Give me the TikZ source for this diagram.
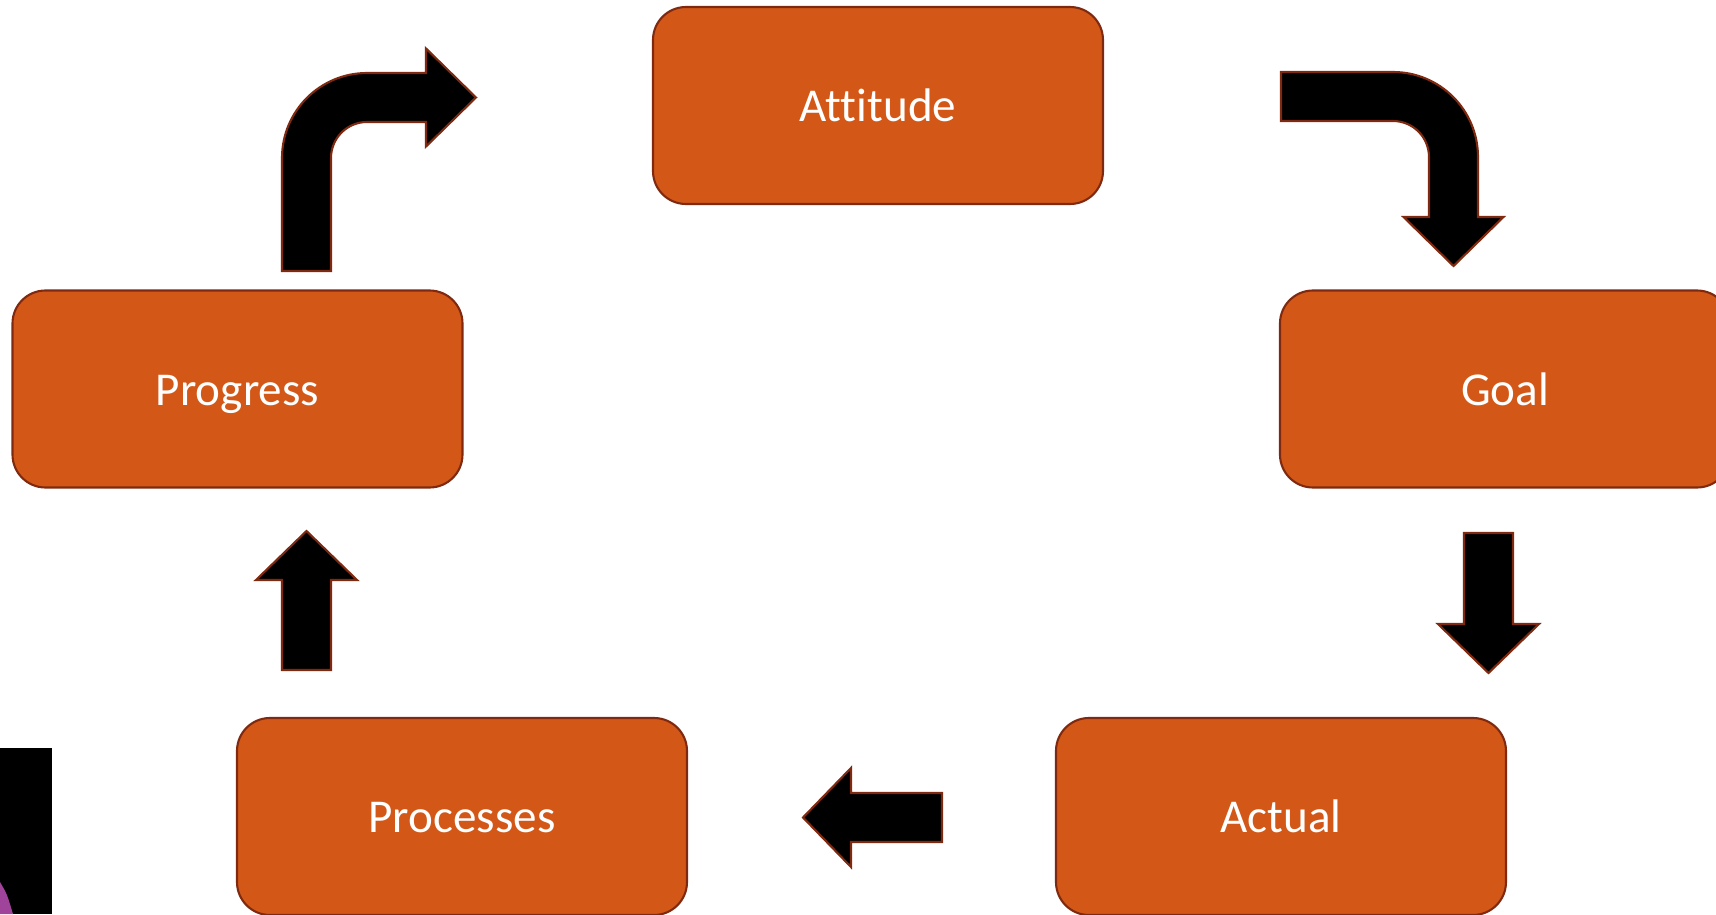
\documentclass[tikz,border=0pt]{standalone}
\usepackage{fontspec}
\setmainfont{Carlito}[Ligatures={NoCommon}]
\definecolor{boxfill}{HTML}{D35818}
\definecolor{boxline}{HTML}{7F2A10}
\definecolor{blob}{HTML}{A0449B}
\tikzset{
  stage/.style={draw=boxline, line width=0.6pt, fill=boxfill, rounded corners=0.33cm,
    minimum width=4.5cm, minimum height=1.97cm, inner sep=0pt,
    text height=10.5pt, text depth=1.2pt,
    text=white, font=\fontsize{13.4}{16}\selectfont},
  blockarrow/.style={draw=boxline, line width=0.6pt, fill=black}
}
\begin{document}
\begin{tikzpicture}
    \useasboundingbox (0,0) rectangle (17.16,9.14);
    \fill[black] (0,0) rectangle (0.52,1.66);
    \fill[blob] (0,0.32) .. controls (0.07,0.2) .. (0.13,0) -- (0,0) -- cycle;
    \node[stage] (attitude) at (8.78,8.085) {Attitude};
    \node[stage] (progress) at (2.375,5.25) {Progress};
    \node[stage] (goal) at (15.05,5.25) {Goal};
    \node[stage] (processes) at (4.62,0.975) {Processes};
    \node[stage] (actual) at (12.81,0.975) {Actual};
    \draw[blockarrow] (12.81,8.42) -- (13.93,8.42) arc[start angle=90, end angle=0, radius=0.85]
        -- (14.78,6.97) -- (15.035,6.97) -- (14.535,6.48) -- (14.035,6.97) -- (14.29,6.97)
        -- (14.29,7.57) arc[start angle=0, end angle=90, radius=0.36] -- (12.81,7.93) -- cycle;
    \draw[blockarrow] (14.64,3.81) -- (15.13,3.81) -- (15.13,2.90) -- (15.39,2.90)
        -- (14.885,2.41) -- (14.38,2.90) -- (14.64,2.90) -- cycle;
    \draw[blockarrow] (9.42,1.21) -- (9.42,0.72) -- (8.51,0.72) -- (8.51,0.47)
        -- (8.03,0.965) -- (8.51,1.46) -- (8.51,1.21) -- cycle;
    \draw[blockarrow] (2.82,2.44) -- (3.31,2.44) -- (3.31,3.34) -- (3.57,3.34)
        -- (3.065,3.83) -- (2.56,3.34) -- (2.82,3.34) -- cycle;
    \draw[blockarrow] (2.82,6.43) -- (2.82,7.56) arc[start angle=180, end angle=90, radius=0.85]
        -- (4.26,8.41) -- (4.26,8.655) -- (4.76,8.165) -- (4.26,7.675) -- (4.26,7.92)
        -- (3.67,7.92) arc[start angle=90, end angle=180, radius=0.36] -- (3.31,6.43) -- cycle;
\end{tikzpicture}
\end{document}
